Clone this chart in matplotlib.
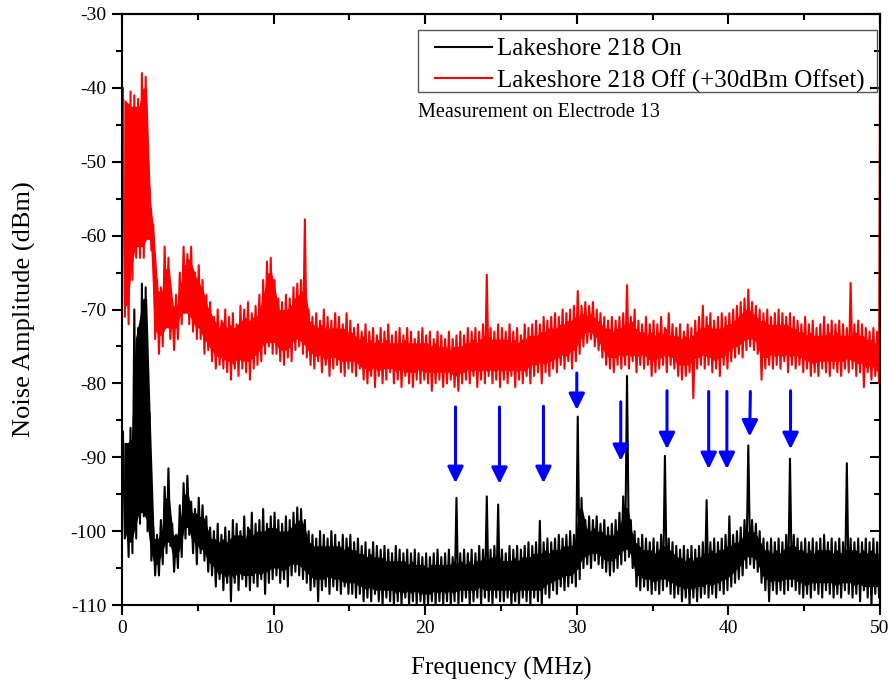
import numpy as np
import matplotlib
matplotlib.use('Agg')
import matplotlib.pyplot as plt
from matplotlib.patches import Rectangle
from matplotlib.ticker import MultipleLocator, NullFormatter

plt.rcParams['font.family'] = ['Liberation Serif', 'DejaVu Serif']
plt.rcParams['axes.unicode_minus'] = False

# spectrum: 0.25 MHz bins, upper / lower excursion of the trace in each bin
bin_step = 0.25
freq_bins = np.arange(0, 50, bin_step)

# Lakeshore 218 Off (+30 dBm offset), red
red_hi = [
    -40, -59, -40.5, -41, -41.5, -38, -38.5, -53.5, -58.5, -66, -67, -61.5, -63, -69, -68, -65, -61.5, -62.5, -61.5, -65,
    -64, -66, -68, -69, -71, -70, -71.5, -70, -71, -70.5, -72, -69.5, -70, -69, -70.5, -69.5, -68, -66, -63.5, -63,
    -66, -68.5, -69, -68, -68.5, -67, -66.5, -66, -57.8, -70, -71, -70.5, -71.5, -70, -71, -71.5, -70.5, -71, -72, -70.5,
    -71.5, -72.5, -72, -73, -72, -73, -72.5, -73.5, -72.5, -73, -72, -73.5, -73, -72.5, -73.5, -72.5, -73, -74, -73, -72.5,
    -73.5, -73, -74, -73, -73.5, -74, -73, -74, -73.5, -73, -73.5, -72.5, -73, -72.5, -73, -72, -65.3, -72.5, -73, -72,
    -72.5, -73, -72, -73, -72.5, -73.5, -72, -72.5, -72, -71.5, -72, -71, -71.5, -71, -70.5, -71, -70, -70.5, -70, -69.5,
    -67.5, -69.5, -69, -69.5, -69, -70, -70.5, -71, -71.5, -71, -71.5, -71, -70.5, -66.7, -71, -70, -71.5, -72, -71, -72,
    -71.5, -72, -71, -72.5, -70.5, -72, -72.5, -72, -73, -72, -72.5, -71.5, -71, -69.5, -71, -70.5, -71.5, -71, -70.5, -71,
    -70.5, -70, -69.5, -69, -68.5, -67.3, -69, -69.5, -70, -70.5, -70, -71, -70.5, -70, -70.5, -71, -70.5, -71, -71.5, -72,
    -71, -72, -71.5, -72.5, -72, -71, -72, -71.5, -72, -71.5, -72, -72.5, -66.4, -72, -71.5, -72, -72.5, -73, -72.5, -73,
]
red_lo = [
    -71, -72, -66, -63, -63, -63, -58, -62, -74, -76, -75, -72, -74, -75.5, -74, -72, -70, -72, -73, -74,
    -74, -76, -75.5, -77, -78, -77.5, -78, -78.5, -79.5, -78, -79, -78, -78.5, -79.5, -78, -77.5, -77, -76, -75, -76,
    -76, -77, -77.5, -76.5, -77, -75.5, -75, -76, -76.5, -77.5, -78, -77, -78.5, -77.5, -79, -78, -77.5, -78.5, -79, -78,
    -78.5, -79, -78, -79.5, -80, -79, -80.5, -79, -80, -79.5, -78.5, -80, -79.5, -80.5, -79, -80, -80.5, -79.5, -80, -79.5,
    -80, -81, -80, -79.5, -80.5, -80, -79.5, -80.5, -81, -80, -79.5, -80, -79, -80.5, -79.5, -80, -79, -80, -79.5, -80.5,
    -79.5, -80, -79, -80.5, -79.5, -80, -79, -80, -79, -78.5, -80, -78.5, -79, -78, -78.5, -77.5, -78, -77, -78, -77,
    -76, -75, -74.5, -74, -75, -75.5, -76.5, -77.5, -78, -78.5, -77.5, -78, -77.5, -78, -77, -78.5, -77.5, -78, -77.5, -79,
    -78.5, -78, -77.5, -78.5, -77.5, -78, -79, -79.5, -79, -78.5, -82, -78, -77.5, -78, -77.5, -78.5, -78, -79, -77.5, -78,
    -77, -76.5, -76, -76.5, -75.5, -75, -75.5, -76, -79.5, -78, -77.5, -78, -77.5, -78, -77, -78.5, -77.5, -78, -77.5, -78.5,
    -78, -79, -78.5, -79, -78, -78.5, -79, -78, -78.5, -79, -78, -78.5, -78, -79, -78.5, -80.5, -78.5, -79.5, -79, -80,
]
red_ends = [-40.0, -40.0]

# Lakeshore 218 On, black
black_hi = [
    -86.5, -95, -86, -70, -72.5, -66.5, -67, -84, -99.5, -100.5, -98.5, -94, -91.5, -99, -100.5, -96.5, -93.5, -92.5, -96, -97,
    -95.5, -96.5, -98, -99.5, -100, -99, -100.5, -99.5, -100, -98.5, -99, -100, -98, -99.5, -97.5, -99, -98.5, -97, -99, -98,
    -97.5, -98.5, -99, -98, -98.5, -97.5, -96.8, -97, -98.5, -100, -100.5, -101, -100, -100.5, -101, -100, -100.5, -101.5, -100.5, -101,
    -100.5, -101.5, -101, -102, -101.5, -102.5, -101.5, -102, -102.5, -102, -102.5, -103, -102, -102.5, -103, -102.5, -103, -102.5, -103, -103.5,
    -103, -103.5, -103, -102.5, -103.5, -103, -102.5, -103.5, -95.5, -103, -102.5, -103, -102.5, -103, -102, -102.5, -95.3, -102.5, -102, -96.4,
    -102.5, -103, -102, -102.5, -102, -102.5, -102, -101.5, -102, -101.5, -98.6, -101.5, -101, -101.5, -101, -100.5, -101, -100.5, -100, -100.5,
    -84.5, -95.5, -98.5, -98, -98.5, -98, -99, -98.5, -99.5, -99, -98.5, -97.5, -95.3, -79, -98.5, -100, -101, -100.5, -101, -101.5,
    -101, -101.5, -100.5, -89.8, -101, -101.5, -102, -102.5, -102, -102.5, -102, -102.5, -102, -101.5, -95.8, -101.5, -101, -101.5, -101, -100.5,
    -98, -100.5, -100, -99.5, -98.5, -88.4, -98.5, -99, -100, -101, -101.5, -101, -101.5, -101, -101.5, -100.5, -90.2, -100.5, -101, -101.5,
    -101, -101.5, -101, -101.5, -101, -100.5, -101.5, -101, -101.5, -101, -101.5, -90.8, -101, -101.5, -101, -101.5, -101, -101.5, -101, -101.5,
]
black_lo = [
    -101, -103.5, -103, -101, -99, -98, -100, -104, -106, -106, -104.5, -103, -102, -105.5, -105, -103.5, -101, -100.5, -103, -104.5,
    -103, -104, -105.5, -106, -107.5, -106.5, -108, -107, -109.5, -107, -108, -106.5, -107.5, -108, -107, -107.5, -106.5, -108.5, -107, -106.5,
    -106, -107, -106.5, -107.5, -106, -105.5, -106, -106.5, -107, -108, -107.5, -109.5, -108, -107.5, -108.5, -107.5, -108, -108.5, -107.5, -108.5,
    -108.5, -109, -108.5, -109.5, -109, -109.5, -108.5, -109.5, -110, -109, -109.5, -110, -109.5, -110, -109, -110, -109.5, -110, -109.5, -110,
    -110, -109.5, -110, -109.5, -110, -109.5, -110, -109.5, -110, -109.5, -109, -110, -109.5, -109, -110, -109, -109.5, -110, -109, -109.5,
    -109.5, -109, -110, -109.5, -110, -109, -109.5, -110, -109, -109.5, -110, -108.5, -109, -108, -108.5, -107.5, -108, -107.5, -107, -107.5,
    -106.5, -105, -104.5, -105, -104, -104.5, -105, -105.5, -106, -105.5, -105, -104.5, -104, -103.5, -105, -107.5, -108, -107.5, -108, -108.5,
    -108, -108.5, -108, -107.5, -108.5, -109, -108.5, -109.5, -109, -110, -109, -109.5, -109, -108.5, -109, -108.5, -109, -108, -108.5, -108,
    -107.5, -107, -106.5, -106, -105, -104.5, -105, -105.5, -107, -108, -109.5, -108, -108.5, -108, -108.5, -108, -107.5, -108, -108.5, -109,
    -108.5, -109, -108, -108.5, -109, -108, -108.5, -109, -108.5, -109, -108, -108.5, -109, -108.5, -109.5, -108, -109, -110, -108.5, -109,
]
black_ends = [-88.0, -104.0]

# blue arrows marking the spurs on the black trace
arrow_x = [22.0, 24.9, 27.8, 30.0, 32.9, 35.95, 38.7, 39.9, 41.4, 44.1]
arrow_tail_x = [22.0, 24.9, 27.8, 30.0, 32.9, 35.95, 38.7, 39.9, 41.45, 44.1]
arrow_top = [-83.2, -83.2, -83.1, -78.6, -82.5, -81.0, -81.1, -81.1, -81.1, -81.0]
arrow_tip = [-93.5, -93.6, -93.5, -83.6, -90.5, -88.9, -91.6, -91.6, -87.2, -88.9]


def trace(hi, lo, ends):
    # hi/lo alternate inside each bin, like the dense analyser trace
    x = [0.0]
    y = [ends[0]]
    for f, a, b in zip(freq_bins, hi, lo):
        x += [f + bin_step * 0.25, f + bin_step * 0.75]
        y += [a, b]
    x.append(50.0)
    y.append(ends[1])
    return np.array(x), np.array(y)


def core(hi, lo, inset=1.5):
    # solid middle of the band: median of each bin and its neighbours (drops lone spurs),
    # pulled in a little so the trace's own excursions stay ragged on top of it
    hp = np.pad(np.asarray(hi, float), 1, mode='edge')
    lp = np.pad(np.asarray(lo, float), 1, mode='edge')
    top = np.median(np.vstack([hp[:-2], hp[1:-1], hp[2:]]), axis=0) - inset
    bot = np.median(np.vstack([lp[:-2], lp[1:-1], lp[2:]]), axis=0) + inset
    top = np.maximum(top, bot)
    return freq_bins + bin_step / 2, bot, top


fig = plt.figure(figsize=(8.88, 6.88), dpi=100)
ax = fig.add_axes([122 / 888, 1 - 605 / 688, 758 / 888, 591 / 688])

xb, yb = trace(black_hi, black_lo, black_ends)
xr, yr = trace(red_hi, red_lo, red_ends)
cx, cb, ct = core(red_hi, red_lo)
ax.fill_between(cx, cb, ct, color='#ff0000', lw=0, zorder=2)
ax.plot(xr, yr, color='#ff0000', lw=1.5, label='Lakeshore 218 Off (+30dBm Offset)', zorder=2)
cx, cb, ct = core(black_hi, black_lo)
ax.fill_between(cx, cb, ct, color='black', lw=0, zorder=3)
ax.plot(xb, yb, color='black', lw=1.5, label='Lakeshore 218 On', zorder=3)

for xt, xh, y0, y1 in zip(arrow_tail_x, arrow_x, arrow_top, arrow_tip):
    ax.annotate('', xy=(xh, y1), xytext=(xt, y0),
                arrowprops=dict(arrowstyle='-|>,head_length=0.65,head_width=0.32',
                                color='#0000ff', lw=2.2, mutation_scale=15,
                                shrinkA=0, shrinkB=0), zorder=4)

ax.set_xlim(0, 50)
ax.set_ylim(-110, -30)
ax.xaxis.set_major_locator(MultipleLocator(10))
ax.xaxis.set_minor_locator(MultipleLocator(5))
ax.yaxis.set_major_locator(MultipleLocator(10))
ax.yaxis.set_minor_locator(MultipleLocator(5))
ax.tick_params(which='major', direction='out', length=7, width=1.5, labelsize=14, pad=4,
               top=False, right=False)
ax.tick_params(which='minor', direction='out', length=4, width=1.5, top=False, right=False)
for s in ax.spines.values():
    s.set_linewidth(1.5)

# top and right axes carry inward ticks only
secx = ax.secondary_xaxis('top')
secx.xaxis.set_major_locator(MultipleLocator(10))
secx.xaxis.set_minor_locator(MultipleLocator(5))
secx.xaxis.set_major_formatter(NullFormatter())
secx.tick_params(which='major', direction='in', length=7, width=1.5)
secx.tick_params(which='minor', direction='in', length=4, width=1.5)
secx.spines['top'].set_linewidth(1.5)
secy = ax.secondary_yaxis('right')
secy.yaxis.set_major_locator(MultipleLocator(10))
secy.yaxis.set_minor_locator(MultipleLocator(5))
secy.yaxis.set_major_formatter(NullFormatter())
secy.tick_params(which='major', direction='in', length=7, width=1.5)
secy.tick_params(which='minor', direction='in', length=4, width=1.5)
secy.spines['right'].set_linewidth(1.5)

ax.set_xlabel('Frequency (MHz)', fontsize=18, labelpad=14)
ax.set_ylabel('Noise Amplitude (dBm)', fontsize=19, labelpad=25)

# legend without its own frame; box drawn separately so the left margin matches
handles, labels = ax.get_legend_handles_labels()
leg = ax.legend(handles[::-1], labels[::-1], loc='upper left', bbox_to_anchor=(0.4129, 0.9595),
                borderaxespad=0, borderpad=0, fontsize=18, frameon=False,
                handlelength=2.3, handletextpad=0.2, labelspacing=0.35)
for ln in leg.get_lines():
    ln.set_linewidth(1.5)
ax.add_patch(Rectangle((0.3905, 0.8681), 0.6055, 0.1049, transform=ax.transAxes,
                       fill=False, edgecolor='#555555', lw=1.0, zorder=5))

ax.text(0.3905, 0.8325, 'Measurement on Electrode 13', transform=ax.transAxes,
        fontsize=14.5, va='center', ha='left')

fig.savefig('out.png', dpi=100)
